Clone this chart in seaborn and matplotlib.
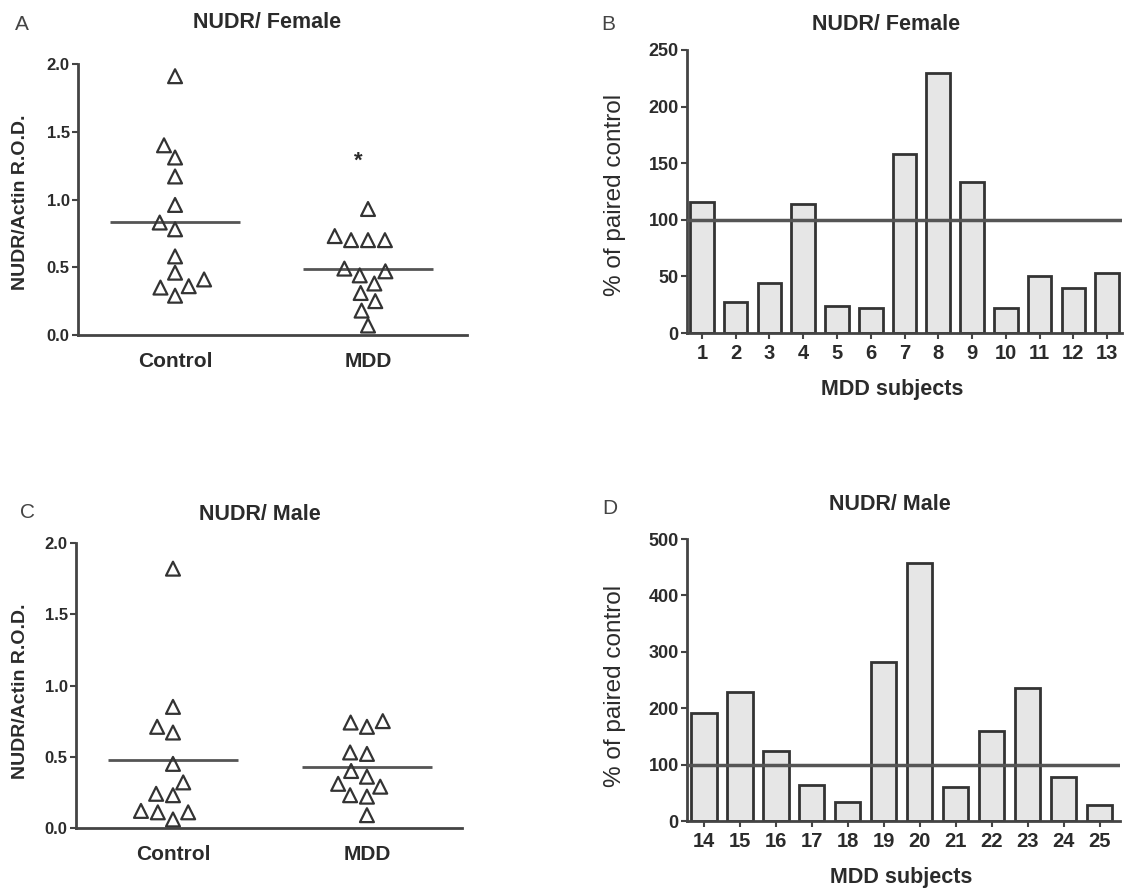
import numpy as np
import pandas as pd
import matplotlib.pyplot as plt
import seaborn as sns

# values
groups = ['Control', 'MDD']
female_control = [1.91, 1.40, 1.31, 1.17, 0.96, 0.83, 0.78, 0.58, 0.46, 0.41, 0.36, 0.35, 0.29]
female_mdd = [0.93, 0.73, 0.70, 0.70, 0.70, 0.49, 0.47, 0.44, 0.38, 0.31, 0.25, 0.18, 0.07]
male_control = [1.82, 0.85, 0.71, 0.67, 0.45, 0.32, 0.24, 0.23, 0.12, 0.11, 0.11, 0.06]
male_mdd = [0.75, 0.74, 0.71, 0.53, 0.52, 0.40, 0.36, 0.31, 0.29, 0.23, 0.22, 0.09]

female_subjects = [str(i) for i in range(1, 14)]
female_pct = [116, 27, 44, 114, 24, 22, 158, 230, 133, 22, 50, 40, 53]
male_subjects = [str(i) for i in range(14, 26)]
male_pct = [191, 229, 124, 63, 33, 282, 457, 61, 160, 236, 78, 29]

W, H = 1127, 893
sns.set_style('ticks')
plt.rcParams['font.family'] = ['Liberation Sans', 'DejaVu Sans']
TXT = '#2b2b2b'
LINE = '#444444'

fig = plt.figure(figsize=(W / 100, H / 100), dpi=100)


def rect(x0, x1, ytop, ybot):
    return [x0 / W, 1 - ybot / H, (x1 - x0) / W, (ybot - ytop) / H]


def fx(x):
    return x / W


def fy(y):
    return 1 - y / H


def style_axes(ax, ysize):
    sns.despine(ax=ax)
    for s in ['left', 'bottom']:
        ax.spines[s].set_linewidth(2)
        ax.spines[s].set_color(LINE)
    ax.tick_params(axis='y', direction='out', length=4, width=1.5, color=LINE,
                   labelsize=ysize, labelcolor=TXT, pad=2)
    for lab in ax.get_yticklabels():
        lab.set_fontweight('bold')
    ax.xaxis.label.set_va('center')
    ax.yaxis.label.set_va('center')


def scatter_panel(ax, control, mdd, star=None):
    df = pd.DataFrame({'group': ['Control'] * len(control) + ['MDD'] * len(mdd),
                       'value': control + mdd})
    sns.swarmplot(data=df, x='group', y='value', order=groups, ax=ax, marker='^',
                  size=10, color='white', edgecolor='#333333', linewidth=1.6)
    for c in ax.collections:
        c.set_facecolor('none')
        c.set_clip_on(False)
    means = [np.mean(control), np.mean(mdd)]
    ax.hlines(means, [-0.335, 0.665], [0.335, 1.335], color='#555555', linewidth=2)
    if star is not None:
        ax.text(0.95, star, '*', ha='center', va='center', fontsize=16,
                fontweight='bold', color=TXT)
    ax.set_ylim(0, 2.0)
    ax.set_yticks([0, 0.5, 1.0, 1.5, 2.0])
    ax.set_yticklabels(['0.0', '0.5', '1.0', '1.5', '2.0'])
    ax.set_xlabel('')
    ax.set_ylabel('NUDR/Actin R.O.D.', fontsize=14, fontweight='bold', color=TXT)
    style_axes(ax, 12)
    ax.tick_params(axis='x', length=0, labelsize=15, labelcolor=TXT, pad=12)
    for lab in ax.get_xticklabels():
        lab.set_fontweight('bold')


def bar_panel(ax, subjects, pct, ymax, step):
    sns.barplot(x=subjects, y=pct, ax=ax, color='#e6e6e6', saturation=1,
                edgecolor='#333333', linewidth=2, width=0.7)
    ax.axhline(100, color='#555555', linewidth=2.5, zorder=5)
    ax.set_ylim(0, ymax)
    ax.set_yticks(np.arange(0, ymax + 1, step))
    ax.set_xlabel('MDD subjects', fontsize=15.5, fontweight='bold', color=TXT)
    ax.set_ylabel('% of paired control', fontsize=17.5, color=TXT)
    style_axes(ax, 13)
    ax.tick_params(axis='x', direction='out', length=4, width=1.5, color=LINE,
                   labelsize=14.5, labelcolor=TXT, pad=4)
    for lab in ax.get_xticklabels():
        lab.set_fontweight('bold')


# panel A
axA = fig.add_axes(rect(78, 467, 64, 335))
scatter_panel(axA, female_control, female_mdd, star=1.28)
axA.set_xlim(-0.503, 1.513)
axA.yaxis.set_label_coords(fx(21), fy(202), transform=fig.transFigure)

# panel C
axC = fig.add_axes(rect(76, 462, 543, 828))
scatter_panel(axC, male_control, male_mdd)
axC.set_xlim(-0.5, 1.49)
axC.yaxis.set_label_coords(fx(21), fy(691), transform=fig.transFigure)

# panel B
axB = fig.add_axes(rect(687, 1122, 50, 333))
bar_panel(axB, female_subjects, female_pct, 250, 50)
axB.set_xlim(-0.44, 12.44)
axB.yaxis.set_label_coords(fx(615), fy(195), transform=fig.transFigure)
axB.xaxis.set_label_coords(fx(892), fy(390), transform=fig.transFigure)

# panel D
axD = fig.add_axes(rect(687, 1120, 539, 821))
bar_panel(axD, male_subjects, male_pct, 500, 100)
axD.set_xlim(-0.47, 11.56)
axD.yaxis.set_label_coords(fx(615), fy(686), transform=fig.transFigure)
axD.xaxis.set_label_coords(fx(901), fy(877), transform=fig.transFigure)

# titles and panel letters
titles = [('NUDR/ Female', 267, 22), ('NUDR/ Female', 886, 25),
          ('NUDR/ Male', 260, 515), ('NUDR/ Male', 890, 505)]
for t, x, y in titles:
    fig.text(fx(x), fy(y), t, ha='center', va='center', fontsize=15.5,
             fontweight='bold', color=TXT)
letters = [('A', 22, 25), ('B', 608, 25), ('C', 28, 513), ('D', 610, 508)]
for t, x, y in letters:
    fig.text(fx(x), fy(y), t, ha='center', va='center', fontsize=15, color='#444444')

fig.savefig('out.png', dpi=100)
plt.close(fig)
